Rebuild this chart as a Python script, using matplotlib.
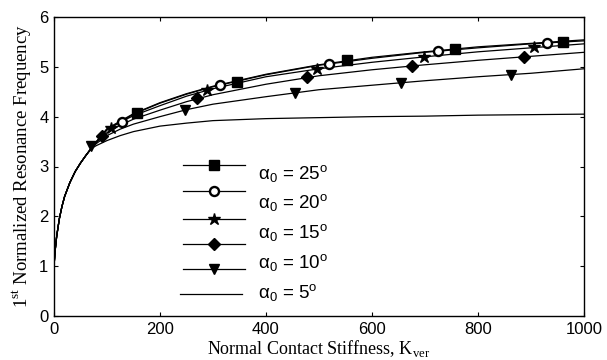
import numpy as np
import matplotlib
matplotlib.use('Agg')
import matplotlib.pyplot as plt
from matplotlib.lines import Line2D

plt.rcParams['font.family'] = ['Liberation Sans', 'DejaVu Sans']
plt.rcParams['mathtext.fontset'] = 'custom'
plt.rcParams['mathtext.rm'] = 'Liberation Sans'

# Rigidez normal de contacto
K = [0, 2, 5, 10, 15, 20, 30, 40, 50, 60, 70, 80, 100, 125, 150, 200, 250,
     300, 400, 500, 600, 700, 800, 900, 1000]

# Tramo inicial comun (K = 0 ... 70)
f_inicio = [1.0, 1.3, 1.6, 1.95, 2.2, 2.4, 2.68, 2.9, 3.07, 3.22, 3.36]

# Frecuencia normalizada para K >= 80, una lista por curva
f_cuadrado = [3.50, 3.76, 3.91, 4.06, 4.28, 4.46, 4.61, 4.85, 5.04, 5.19, 5.30, 5.40, 5.47, 5.54]
f_circulo = [3.50, 3.75, 3.89, 4.05, 4.27, 4.45, 4.60, 4.84, 5.03, 5.17, 5.29, 5.38, 5.46, 5.52]
f_estrella = [3.49, 3.73, 3.89, 4.02, 4.22, 4.41, 4.56, 4.80, 4.96, 5.09, 5.20, 5.30, 5.38, 5.46]
f_rombo = [3.48, 3.68, 3.83, 3.95, 4.13, 4.30, 4.44, 4.65, 4.82, 4.94, 5.04, 5.13, 5.21, 5.29]
f_triangulo = [3.46, 3.62, 3.75, 3.85, 4.00, 4.14, 4.25, 4.40, 4.54, 4.63, 4.72, 4.80, 4.87, 4.96]
f_linea = [3.42, 3.52, 3.62, 3.70, 3.81, 3.87, 3.92, 3.96, 3.98, 4.00, 4.01, 4.03, 4.04, 4.05]

# Posiciones de los marcadores
mk_cuadrado_K = [156, 345, 553, 757, 961]
mk_cuadrado_f = [4.08, 4.70, 5.13, 5.36, 5.50]
mk_circulo_K = [129, 313, 519, 725, 931]
mk_circulo_f = [3.90, 4.64, 5.06, 5.32, 5.48]
mk_estrella_K = [107, 289, 497, 698, 906]
mk_estrella_f = [3.77, 4.54, 4.95, 5.19, 5.39]
mk_rombo_K = [91, 270, 477, 675, 886]
mk_rombo_f = [3.61, 4.37, 4.79, 5.02, 5.19]
mk_triangulo_K = [69, 248, 455, 654, 862]
mk_triangulo_f = [3.41, 4.14, 4.48, 4.68, 4.84]

etiquetas = ['25', '20', '15', '10', '5']

fig = plt.figure(figsize=(6.07, 3.60), dpi=100)
ax = fig.add_axes([0.089, 0.122, 0.873, 0.831])

curvas = [f_cuadrado, f_circulo, f_estrella, f_rombo, f_triangulo, f_linea]
for f in curvas:
    ax.plot(K, f_inicio + f, color='black', lw=0.9)

ax.plot(mk_cuadrado_K, mk_cuadrado_f, 's', color='black', ms=6.5, ls='none')
ax.plot(mk_circulo_K, mk_circulo_f, 'o', mfc='white', mec='black', mew=1.7, ms=6.5, ls='none')
ax.plot(mk_estrella_K, mk_estrella_f, '*', color='black', ms=9, ls='none')
ax.plot(mk_rombo_K, mk_rombo_f, 'D', color='black', ms=6, ls='none')
ax.plot(mk_triangulo_K, mk_triangulo_f, 'v', color='black', ms=7.5, ls='none')

# Leyenda dibujada a mano (6 simbolos, 5 textos como en el original)
estilos = [dict(marker='s', color='black', ms=6.5),
           dict(marker='o', mfc='white', mec='black', mew=1.7, ms=6.5),
           dict(marker='*', color='black', ms=9),
           dict(marker='D', color='black', ms=6),
           dict(marker='v', color='black', ms=7.5),
           dict(marker=None)]
filas_y = [165, 191, 219, 244, 269, 294]
for est, py in zip(estilos, filas_y):
    y = (316 - py) / 299
    x0, x1 = (183 - 54) / 530, (245 - 54) / 530
    if est['marker'] is None:
        x0, x1 = (180 - 54) / 530, (242 - 54) / 530
    ax.add_line(Line2D([x0, x1], [y, y], transform=ax.transAxes, color='black', lw=0.9))
    if est['marker'] is not None:
        ax.add_line(Line2D([(214 - 54) / 530], [y], transform=ax.transAxes, ls='none', **est))

textos_y = [173, 202, 232, 262, 292]
for et, py in zip(etiquetas, textos_y):
    ax.text((258 - 54) / 530, (316 - py) / 299,
            r'$\mathregular{\alpha_0}$ = ' + et + r'$\mathregular{^o}$',
            transform=ax.transAxes, fontsize=13.5, va='center', ha='left')

ax.set_xlim(0, 1000)
ax.set_ylim(0, 6)
ax.set_xticks([0, 200, 400, 600, 800, 1000])
ax.set_yticks([0, 1, 2, 3, 4, 5, 6])
ax.tick_params(direction='in', top=True, right=True, labelsize=12, length=3, pad=4)
for s in ax.spines.values():
    s.set_linewidth(1.0)

ax.set_xlabel(r'Normal Contact Stiffness, K$_{\mathregular{ver}}$',
              fontsize=13, family='Liberation Serif', labelpad=1)
ax.set_ylabel(r'1$^{\mathregular{st}}$ Normalized Resonance Frequency',
              fontsize=13.5, family='Liberation Serif', labelpad=4)

fig.savefig('out.png', dpi=100)
